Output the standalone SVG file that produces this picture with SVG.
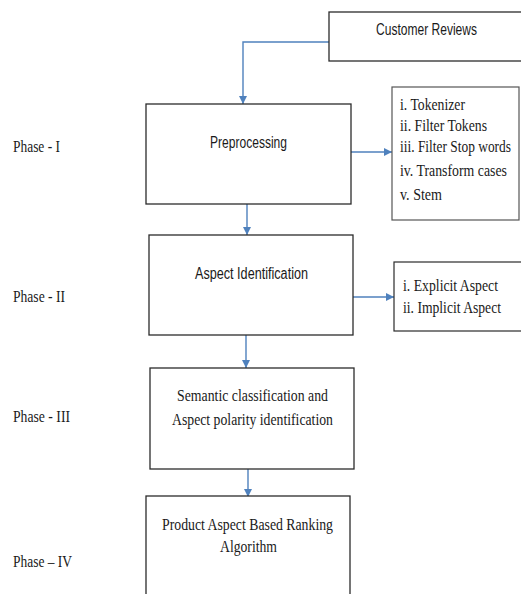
<svg xmlns="http://www.w3.org/2000/svg" width="521" height="594" viewBox="0 0 521 594">
<defs>
<style>
.box{fill:#fff;stroke:#2b2b2b;stroke-width:1.3}
.lbox{fill:#fff;stroke:#2b2b2b;stroke-width:1.2}
.sans{font-family:"Liberation Sans",Arial,sans-serif;font-size:12px;fill:#1a1a1a}
.serif{font-family:"Liberation Serif","Times New Roman",serif;font-size:13.5px;fill:#1a1a1a}
.con{fill:none;stroke:#4f81bd;stroke-width:1.4}
</style>
<marker id="arr" viewBox="0 0 10 10" refX="10" refY="5" markerWidth="8" markerHeight="8" markerUnits="userSpaceOnUse" orient="auto">
<path d="M0,0 L10,5 L0,10 z" fill="#4f81bd"/>
</marker>
</defs>
<rect width="521" height="594" fill="#fff"/>

<g id="phases">
<text class="serif" transform="translate(13,152) scale(1,1.27)" textLength="47" lengthAdjust="spacingAndGlyphs">Phase - I</text>
<text class="serif" transform="translate(13,302) scale(1,1.27)" textLength="52" lengthAdjust="spacingAndGlyphs">Phase - II</text>
<text class="serif" transform="translate(13,422) scale(1,1.27)" textLength="57" lengthAdjust="spacingAndGlyphs">Phase - III</text>
<text class="serif" transform="translate(13,567) scale(1,1.27)" textLength="59" lengthAdjust="spacingAndGlyphs">Phase – IV</text>
</g>

<g id="connectors">
<path class="con" d="M329,42 H243 V104" marker-end="url(#arr)"/>
<path class="con" d="M350,152 H392" marker-end="url(#arr)"/>
<path class="con" d="M247,204 V235" marker-end="url(#arr)"/>
<path class="con" d="M352,297 H394" marker-end="url(#arr)"/>
<path class="con" d="M246,335 V368" marker-end="url(#arr)"/>
<path class="con" d="M248,469 V497" marker-end="url(#arr)"/>
</g>

<g id="customer-reviews">
<rect class="box" x="329" y="12" width="200" height="49"/>
<text class="sans" transform="translate(376,35) scale(1,1.3)" textLength="101" lengthAdjust="spacingAndGlyphs">Customer Reviews</text>
</g>

<g id="preprocessing">
<rect class="box" x="146" y="104" width="205" height="100"/>
<text class="sans" transform="translate(210,148) scale(1,1.3)" textLength="77" lengthAdjust="spacingAndGlyphs">Preprocessing</text>
</g>

<g id="preprocessing-steps">
<rect class="lbox" x="392" y="87" width="127" height="133" style="stroke:#555"/>
<text class="serif" transform="translate(400,110) scale(1,1.27)" textLength="65" lengthAdjust="spacingAndGlyphs">i. Tokenizer</text>
<text class="serif" transform="translate(400,131) scale(1,1.27)" textLength="87" lengthAdjust="spacingAndGlyphs">ii. Filter Tokens</text>
<text class="serif" transform="translate(400,152) scale(1,1.27)" textLength="111" lengthAdjust="spacingAndGlyphs">iii. Filter Stop words</text>
<text class="serif" transform="translate(400,176) scale(1,1.27)" textLength="107" lengthAdjust="spacingAndGlyphs">iv. Transform cases</text>
<text class="serif" transform="translate(400,200) scale(1,1.27)" textLength="42" lengthAdjust="spacingAndGlyphs">v. Stem</text>
</g>

<g id="aspect-identification">
<rect class="box" x="149" y="235" width="204" height="100"/>
<text class="sans" transform="translate(195,279) scale(1,1.3)" textLength="113" lengthAdjust="spacingAndGlyphs">Aspect Identification</text>
</g>

<g id="aspect-types">
<rect class="lbox" x="394" y="262" width="135" height="69"/>
<text class="serif" transform="translate(403,291) scale(1,1.27)" textLength="95" lengthAdjust="spacingAndGlyphs">i. Explicit Aspect</text>
<text class="serif" transform="translate(403,313) scale(1,1.27)" textLength="98" lengthAdjust="spacingAndGlyphs">ii. Implicit Aspect</text>
</g>

<g id="semantic-classification">
<rect class="box" x="150" y="368" width="204" height="101"/>
<text class="serif" transform="translate(177,401) scale(1,1.27)" textLength="151" lengthAdjust="spacingAndGlyphs">Semantic classification and</text>
<text class="serif" transform="translate(172,425) scale(1,1.27)" textLength="161" lengthAdjust="spacingAndGlyphs">Aspect polarity identification</text>
</g>

<g id="ranking-algorithm">
<rect class="box" x="146" y="496" width="204" height="110"/>
<text class="serif" transform="translate(162,530) scale(1,1.27)" textLength="171" lengthAdjust="spacingAndGlyphs">Product Aspect Based Ranking</text>
<text class="serif" transform="translate(220,552) scale(1,1.27)" textLength="57" lengthAdjust="spacingAndGlyphs">Algorithm</text>
</g>
</svg>
